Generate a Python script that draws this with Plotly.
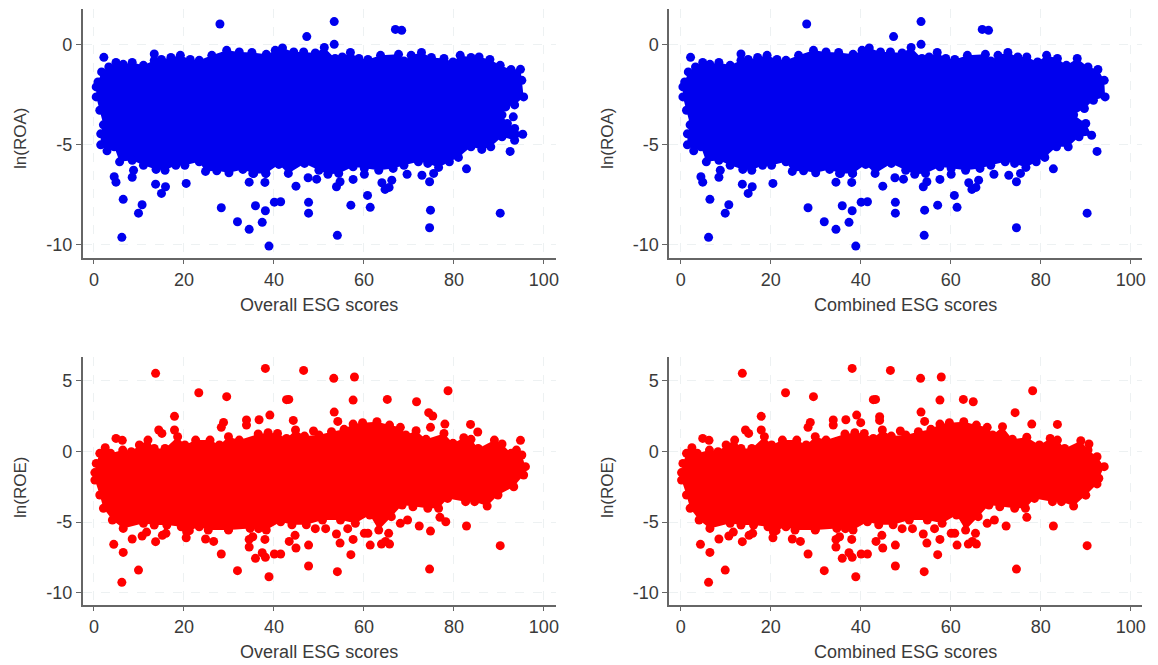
import plotly.graph_objects as go
from plotly.subplots import make_subplots

W, H = 1158, 665
BLUE = "#0000ee"
RED = "#ff0000"

# ---- ln(ROA): outline of the dense cloud ----
roa_upper_x = [0.5, 0.9, 1.7, 3.3, 4.9, 6.5, 8.5, 11, 13.4, 15, 17.1, 19.2, 21.4, 23.4, 26.2, 29.5, 32.3, 35.1, 38.3, 40.3, 41.9, 44.4, 46.6, 49.2, 51.2, 53.6, 55.2, 57, 58.9, 60.9, 63.7, 67.7, 68.9, 70.5]
roa_upper_y = [-2.1, -1.85, -1.35, -1.1, -0.88, -0.97, -0.88, -1.02, -0.77, -0.73, -0.63, -0.52, -0.73, -0.77, -0.52, -0.27, -0.35, -0.38, -0.47, -0.27, -0.15, -0.35, -0.35, -0.4, -0.13, -0.68, -0.6, -0.38, -0.68, -0.73, -0.52, -0.47, -0.8, -0.52]
roa_overall_right_x = [72.8, 75, 77.8, 79.8, 81.4, 83.8, 85.6, 88, 90.3, 92.7, 94.8, 95.1, 95.5, 93.5, 91.5, 90.7, 91.9, 93.5, 95.3, 93.5, 90.7, 88.2, 86.2, 83.8, 81, 79, 76.6]
roa_overall_right_y = [-0.38, -0.63, -0.68, -0.85, -0.52, -0.63, -0.6, -0.73, -1.02, -1.23, -1.22, -1.77, -2.6, -3, -3.1, -3.5, -3.93, -4.18, -4.47, -4.77, -4.6, -5.1, -5.23, -5.1, -5.63, -5.85, -6.13]
roa_combined_right_x = [72.7, 74.9, 76.9, 79.3, 81.3, 83.7, 85.7, 88.1, 90.5, 92.7, 94.1, 94.3, 91.7, 89.7, 87.3, 90, 91.3, 88.5, 86.1, 83.5, 80.9, 79, 76.7]
roa_combined_right_y = [-0.38, -0.6, -0.6, -0.85, -0.52, -0.68, -1.02, -0.68, -1.1, -1.23, -1.77, -2.6, -2.77, -3.18, -3.5, -3.93, -4.52, -4.6, -5.1, -5.1, -5.63, -5.85, -6.13]
roa_lower_x = [74.2, 72.1, 68.9, 66.5, 63.3, 60.1, 57.6, 54.4, 52, 50, 46.8, 43.2, 41.1, 38.2, 35.5, 33.1, 30, 27.3, 24.8, 23.4, 20.2, 18.2, 15.8, 13.8, 11, 8.5, 5.7, 4.5, 2.9, 1.5, 1.5, 2.1, 1.3, 0.5]
roa_lower_y = [-5.93, -5.85, -6.02, -6.18, -6.27, -6.18, -6.1, -6.43, -6.47, -6.27, -5.93, -6.43, -5.98, -6.43, -6.43, -6.23, -6.4, -6.3, -6.33, -5.85, -6.02, -6.02, -6.27, -6.23, -6.02, -5.77, -5.85, -5.1, -5.3, -5, -4.45, -4, -3.27, -2.6]

# ---- ln(ROA): separate points ----
roa_shared_x = [6.2, 6.5, 9.9, 10.7, 4.5, 4.9, 8.5, 8.8, 13.7, 15, 15.9, 20.5, 28.3, 31.9, 34.5, 35.9, 37.4, 38.1, 38.9, 40.1, 41.5, 47.7, 47.7, 54.1, 57.1, 60.8, 61.4, 74.6, 90.3, 44.9, 53.9, 49.5, 47.6, 34.5, 38, 35.3, 38.2, 64, 64.7, 65.6, 66.2, 69.6, 60.1, 57.6, 72.9, 74.6, 75.5, 82.8, 92.5, 54.7, 28, 53.4, 47.3, 53.4, 67, 68.4, 2.2, 13.4]
roa_shared_y = [-9.63, -7.73, -8.42, -8.0, -6.6, -6.87, -6.62, -6.27, -6.97, -7.43, -7.1, -6.93, -8.15, -8.85, -9.23, -8.05, -8.88, -8.3, -10.07, -7.87, -7.85, -7.88, -8.42, -9.53, -8.02, -7.53, -8.13, -9.15, -8.42, -7.07, -7.1, -6.72, -6.65, -6.87, -6.88, -6.43, -6.43, -6.9, -7.23, -7.13, -6.77, -6.47, -6.47, -6.73, -6.52, -6.85, -6.43, -6.2, -5.33, -6.85, 1.05, 1.17, 0.42, 0.03, 0.78, 0.73, -0.62, -0.45]
roa_overall_extra_x = [74.8, 93.2]
roa_overall_extra_y = [-8.27, -3.6]
roa_combined_extra_x = [54.2]
roa_combined_extra_y = [-8.27]

# ---- ln(ROE): outline of the dense cloud ----
roe_upper_x = [0.2, 0.5, 1.3, 2.5, 3.7, 6.4, 8.3, 10.1, 12, 13.4, 15.8, 18.6, 20.2, 22.6, 25.8, 27.9, 29.9, 32.3, 36.5, 38.7, 40.8, 42.8, 44.8, 46.8, 50, 52.8, 55.6, 57.6, 59.7, 62.9, 65.7, 68.1, 69.3]
roe_upper_y = [-1.5, -0.85, -0.14, 0.26, -0.14, 0.09, -0.02, 0.45, 0.8, 0.21, 0.21, 1.04, 0.45, 0.8, 0.8, 0.45, 1.04, 0.8, 1.23, 1.32, 1.27, 0.92, 1.51, 1.08, 1.16, 1.39, 1.56, 1.93, 2.03, 2.1, 1.86, 1.7, 1.16]
roe_overall_right_x = [71.6, 73.8, 77.8, 79.8, 82.2, 83.8, 85.4, 89, 90.7, 92.7, 93.9, 95.1, 95.9, 95.5, 93.3, 89.8, 87.4, 84.6, 82.6, 78.6, 76.6, 74.2, 70.9, 68.5]
roe_overall_right_y = [1.46, 0.85, 1.27, 0.57, 0.97, 0.85, 0.21, 0.8, 0.52, -0.14, 0.09, -0.26, -1.08, -1.67, -2.5, -3.09, -3.87, -3.56, -3.56, -3.33, -4.03, -4.03, -3.92, -3.8]
roe_combined_right_x = [71.5, 73.7, 76.9, 79.7, 82.1, 83.7, 85.3, 88.9, 90.5, 92.5, 94.1, 92.9, 92.5, 90, 87.3, 84.6, 82.6, 78.6, 76.6, 74.2, 70.9, 68.5]
roe_combined_right_y = [1.75, 0.85, 1.0, 0.45, 0.92, 0.8, 0.21, 0.75, 0.09, -0.38, -1.08, -1.9, -2.3, -3.1, -3.87, -3.56, -3.56, -3.33, -4.03, -4.03, -3.92, -3.8]
roe_lower_x = [66.1, 63.3, 61.3, 58.1, 54.8, 50.8, 47.2, 44, 41.5, 38.3, 34.7, 29.9, 25.4, 23.4, 20.6, 19.4, 16.2, 13.4, 11, 6.5, 4.1, 2.1, 1.3, 0.2]
roe_lower_y = [-4.62, -5.57, -4.5, -5.09, -4.86, -4.86, -5.2, -5.2, -4.98, -5.57, -5.45, -5.57, -5.57, -5.33, -5.68, -5.33, -5.21, -5.21, -5.09, -5.45, -4.86, -4.03, -3.09, -2.03]

# ---- ln(ROE): separate points ----
roe_shared_x = [13.7, 38.1, 46.6, 53.3, 57.9, 23.3, 29.5, 42.8, 43.3, 57.6, 17.9, 39.1, 36.7, 53.4, 54.2, 4.9, 6.3, 14.4, 15.1, 17.9, 28.8, 28.3, 33.9, 33.9, 48.8, 83.7, 4.4, 6.5, 6.2, 9.9, 8.5, 10.7, 11.7, 13.7, 15.2, 16, 20.5, 21.2, 24.8, 26.6, 28.3, 29.9, 31.9, 34.5, 34.5, 35.3, 35.9, 37.4, 38.1, 38, 36.6, 38.9, 40.1, 41.5, 43.4, 44.7, 44.9, 47.7, 47.7, 49.2, 51.5, 53.9, 54.7, 54.1, 56.4, 57.6, 57.1, 60.1, 60.9, 61.4, 63.9, 64.8, 65.5, 65.7, 68.1, 69.7, 72.3, 74.6, 76.9, 82.8, 90.3]
roe_shared_y = [5.52, 5.87, 5.73, 5.17, 5.26, 4.15, 3.87, 3.66, 3.68, 3.63, 2.48, 2.57, 2.24, 2.78, 2.12, 0.92, 0.78, 1.51, 1.27, 1.51, 2.05, 1.7, 2.22, 1.86, 1.44, 1.91, -6.58, -7.15, -9.27, -8.4, -6.2, -5.99, -5.71, -6.39, -5.94, -5.8, -6.11, -5.61, -6.2, -6.37, -7.26, -5.52, -8.44, -6.77, -6.23, -6.04, -7.57, -7.17, -7.5, -6.23, -5.47, -8.87, -7.26, -7.26, -6.37, -5.94, -6.84, -6.63, -8.11, -5.47, -5.47, -5.85, -6.49, -8.51, -5.47, -6.23, -7.31, -5.8, -5.8, -6.63, -6.56, -6.37, -5.8, -6.56, -5.09, -4.86, -5.28, -8.33, -4.67, -5.28, -6.67]
roe_overall_extra_x = [78.7, 65.2, 71.7, 44.3, 74.4, 75.3, 74.8, 85.3, 94.8, 78, 74.8, 78.2]
roe_overall_extra_y = [4.29, 3.68, 3.51, 2.19, 2.74, 2.5, 1.7, 1.37, 0.78, 1.93, -5.64, -4.98]
roe_combined_extra_x = [62.8, 65, 78.2, 74.3, 78, 90.7, 40, 44.2, 44.2]
roe_combined_extra_y = [3.68, 3.51, 4.29, 2.74, 1.93, 0.52, 2.03, 2.45, 2.19]

# ---- axes text ----
x_ticks = [0, 20, 40, 60, 80, 100]
x_labels = ["0", "20", "40", "60", "80", "100"]
roa_ticks = [0, -5, -10]
roa_labels = ["0", "-5", "-10"]
roe_ticks = [5, 0, -5, -10]
roe_labels = ["5", "0", "-5", "-10"]
x_titles = ["Overall ESG scores", "Combined ESG scores"]
y_titles = ["ln(ROA)", "ln(ROE)"]

panels = [
    dict(row=1, col=1, color=BLUE,
         ex=roa_upper_x + roa_overall_right_x + roa_lower_x,
         ey=roa_upper_y + roa_overall_right_y + roa_lower_y,
         px=roa_shared_x + roa_overall_extra_x, py=roa_shared_y + roa_overall_extra_y),
    dict(row=1, col=2, color=BLUE,
         ex=roa_upper_x + roa_combined_right_x + roa_lower_x,
         ey=roa_upper_y + roa_combined_right_y + roa_lower_y,
         px=roa_shared_x + roa_combined_extra_x, py=roa_shared_y + roa_combined_extra_y),
    dict(row=2, col=1, color=RED,
         ex=roe_upper_x + roe_overall_right_x + roe_lower_x,
         ey=roe_upper_y + roe_overall_right_y + roe_lower_y,
         px=roe_shared_x + roe_overall_extra_x, py=roe_shared_y + roe_overall_extra_y),
    dict(row=2, col=2, color=RED,
         ex=roe_upper_x + roe_combined_right_x + roe_lower_x,
         ey=roe_upper_y + roe_combined_right_y + roe_lower_y,
         px=roe_shared_x + roe_combined_extra_x, py=roe_shared_y + roe_combined_extra_y),
]

fig = make_subplots(rows=2, cols=2)
MARKER = 9
for p in panels:
    fig.add_trace(go.Scatter(x=p["ex"], y=p["ey"], mode="lines+markers", fill="toself",
                             fillcolor=p["color"], line=dict(width=0, color=p["color"]),
                             marker=dict(size=MARKER, color=p["color"]), hoverinfo="skip",
                             showlegend=False), row=p["row"], col=p["col"])
    fig.add_trace(go.Scatter(x=p["px"], y=p["py"], mode="markers",
                             marker=dict(size=MARKER, color=p["color"]),
                             showlegend=False), row=p["row"], col=p["col"])

FONT = dict(family="Liberation Sans, Arial, sans-serif", size=18, color="#3a3a3a")
common = dict(showline=True, linecolor="#666666", linewidth=1.5, ticks="outside", ticklen=5,
              tickcolor="#666666", tickwidth=1, showgrid=True, gridcolor="#edf1f2", gridwidth=1,
              griddash="dash", zeroline=False, tickfont=FONT)

x_dom = [(83 / W, 557.5 / W), (671.5 / W, 1146 / W)]
x_rng = [[-2.5, 102.6], [-2.55, 102.5]]
y_dom = [(1 - 257.7 / H, 1 - 9 / H), (1 - 604.7 / H, 1 - 356.7 / H)]
y_rng = [[-10.65, 1.8], [-10.85, 6.7]]
y_tv = [roa_ticks, roe_ticks]
y_tt = [roa_labels, roe_labels]
y_title_px = [138, 487]
x_title_px = [20, 609]

for r in range(2):
    for c in range(2):
        fig.update_xaxes(domain=x_dom[c], range=x_rng[c], tickmode="array", tickvals=x_ticks,
                         ticktext=x_labels, title=dict(text=x_titles[c], font=FONT, standoff=9),
                         row=r + 1, col=c + 1, **common)
        fig.update_yaxes(domain=y_dom[r], range=y_rng[r], tickmode="array", tickvals=y_tv[r],
                         ticktext=y_tt[r], row=r + 1, col=c + 1, **common)
        fig.add_annotation(text=y_titles[r], xref="paper", yref="paper",
                           x=x_title_px[c] / W, y=1 - y_title_px[r] / H,
                           xanchor="center", yanchor="middle", textangle=-90, showarrow=False,
                           font=dict(family=FONT["family"], size=17, color=FONT["color"]))

fig.update_layout(width=W, height=H, margin=dict(l=0, r=0, t=0, b=0),
                  paper_bgcolor="white", plot_bgcolor="white", showlegend=False)
fig.write_html("out.html", config={"displayModeBar": False},
               post_script="document.body.style.margin='0';")
